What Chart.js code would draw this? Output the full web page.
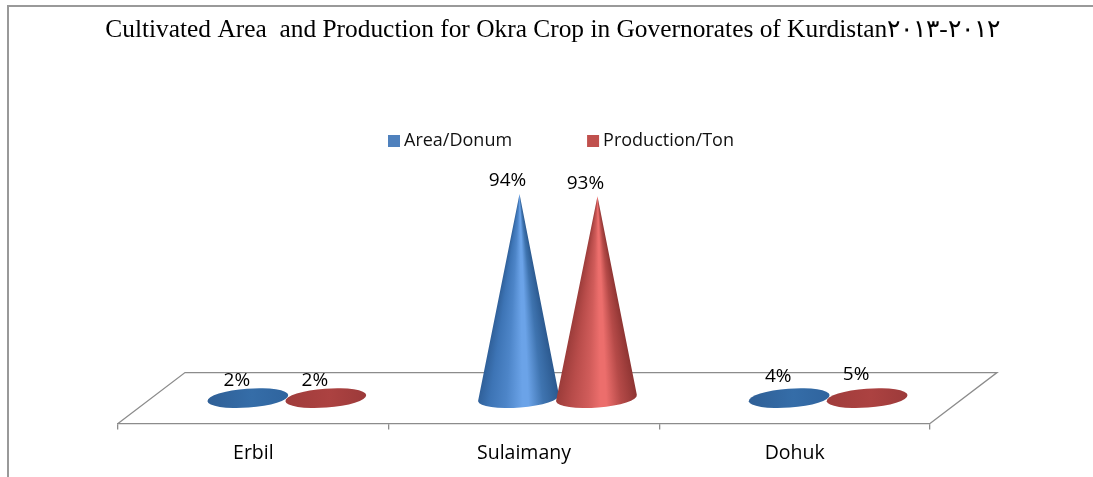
<!DOCTYPE html>
<html><head><meta charset="utf-8">
<style>html,body{margin:0;padding:0;background:#fff}#w{position:relative;width:1093px;height:477px}</style>
<script src="https://cdn.jsdelivr.net/npm/chart.js@4/dist/chart.umd.min.js"></script>
</head><body><div id="w"><canvas id="c" width="1093" height="477"></canvas></div>
<script>
const titleText = "Cultivated Area  and Production for Okra Crop in Governorates of Kurdistan\u0662\u0660\u0661\u0662-\u0662\u0660\u0661\u0663";
const categories = ["Erbil", "Sulaimany", "Dohuk"];
const areaDonum = [2, 94, 4];
const productionTon = [2, 93, 5];
const seriesNames = ["Area/Donum", "Production/Ton"];
const seriesColors = ["#4f81bd", "#c0504d"];
const shades = [
  {stops:[[0,"#2f5f98"],[.15,"#3d74b5"],[.35,"#4d85c8"],[.55,"#6ba3e8"],[.62,"#6ba3e8"],[.8,"#3f74b0"],[1,"#2c5a90"]],
   flat:["#2f5f96","#356da8","#2f649e"]},
  {stops:[[0,"#9a3b39"],[.2,"#b84c4a"],[.4,"#d05c5a"],[.55,"#ec6e6c"],[.62,"#ec6e6c"],[.8,"#b54a48"],[1,"#8f3533"]],
   flat:["#a03c3b","#ac4241","#9c3a3a"]}
];
const DEPTH_X = 67, DEPTH_Y = 51, RX = 40.5, RY = 9.5, TILT = -0.075;
const FRAME = "#999999", AXIS = "#8c8c8c";

function drawCone(ctx, el, s, label){
  const cx = el.x + DEPTH_X/2, cy = el.base - DEPTH_Y/2, tipY = el.y - DEPTH_Y/2, tipX = cx + 1;
  const cos = Math.cos(TILT), sin = Math.sin(TILT);
  const dx = tipX-cx, dy = tipY-cy;
  const u = ( dx*cos + dy*sin)/RX, v = (-dx*sin + dy*cos)/RY;
  const d = Math.hypot(u,v);
  const tall = cy - tipY > 30;
  ctx.save();
  ctx.beginPath();
  if (tall){
    const base = Math.atan2(v,u), off = Math.acos(1/d);
    ctx.moveTo(tipX,tipY);
    ctx.ellipse(cx,cy,RX,RY,TILT,base+off,base-off,false);
    ctx.closePath();
    const g = ctx.createConicGradient(0,tipX,tipY);
    s.stops.slice().reverse().forEach(st=>{
      const xb = cx-RX+st[0]*2*RX;
      g.addColorStop(Math.atan2(cy-tipY,xb-tipX)/(2*Math.PI),st[1]);
    });
    ctx.fillStyle = g;
    ctx.fill();
  } else {
    const g = ctx.createLinearGradient(cx-RX,0,cx+RX,0);
    g.addColorStop(0,s.flat[0]); g.addColorStop(.55,s.flat[1]); g.addColorStop(1,s.flat[2]);
    ctx.fillStyle = g;
    ctx.ellipse(cx,cy,RX,RY,TILT,0,Math.PI*2);
    ctx.fill();
  }
  ctx.restore();
  ctx.save();
  ctx.fillStyle = "#000";
  ctx.font = "19px 'Open Sans'";
  ctx.textAlign = "center"; ctx.textBaseline = "middle";
  ctx.fillText(label, cx-11, tipY-13);
  ctx.restore();
}

const scene = {
  id:"scene",
  afterLayout(chart){
    const t = chart.titleBlock, l = chart.legend;
    t.left = 12; t.right = 1093;
    l.left = 393 - l.options.labels.padding; l.right = 1000;
    l.top = 132 - l.options.labels.padding;
  },
  beforeDraw(chart){
    const c = chart.ctx;
    c.save(); c.fillStyle = FRAME;
    c.fillRect(7,5,1093,2); c.fillRect(7,5,2,472);
    c.restore();
  },
  beforeDatasetsDraw(chart){
    const c = chart.ctx, a = chart.chartArea;
    c.save(); c.strokeStyle = AXIS; c.lineWidth = 1.3;
    c.beginPath();
    c.moveTo(a.left,a.bottom); c.lineTo(a.left+DEPTH_X,a.bottom-DEPTH_Y);
    c.lineTo(a.right+DEPTH_X,a.bottom-DEPTH_Y); c.lineTo(a.right,a.bottom);
    c.stroke(); c.restore();
  },
  beforeDatasetDraw(){ return false; },
  afterDatasetsDraw(chart){
    const c = chart.ctx;
    chart.data.labels.forEach((_,i)=>{
      chart.data.datasets.forEach((ds,k)=>{
        const el = chart.getDatasetMeta(k).data[i];
        drawCone(c, el, shades[k], ds.data[i]+"%");
      });
    });
  }
};

new Chart(document.getElementById("c"),{
  type:"bar",
  data:{labels:categories,datasets:[
    {label:seriesNames[0],data:areaDonum,backgroundColor:seriesColors[0],barPercentage:1.03,categoryPercentage:.576},
    {label:seriesNames[1],data:productionTon,backgroundColor:seriesColors[1],barPercentage:1.03,categoryPercentage:.576}
  ]},
  options:{
    responsive:false,animation:false,
    layout:{padding:{left:118,right:163,top:0,bottom:0}},
    plugins:{
      tooltip:{enabled:false},
      title:{display:true,text:titleText,color:"#000",align:"center",
        font:{family:"'Liberation Serif'",size:25.4,weight:"normal"},padding:{top:15,bottom:53}},
      legend:{display:true,position:"top",align:"start",
        labels:{usePointStyle:true,pointStyle:"rect",boxWidth:2,boxHeight:12,padding:80,color:"#111",font:{family:"'Open Sans'",size:18}}}
    },
    scales:{
      x:{grid:{offset:true,drawOnChartArea:false,color:AXIS,tickLength:6,lineWidth:1.3},
         border:{color:AXIS,width:1.3},
         ticks:{color:"#000",padding:12,maxRotation:0,font:{family:"'Open Sans'",size:19.5}}},
      y:{display:false,min:0,max:100}
    }
  },
  plugins:[scene]
});
</script></body></html>
